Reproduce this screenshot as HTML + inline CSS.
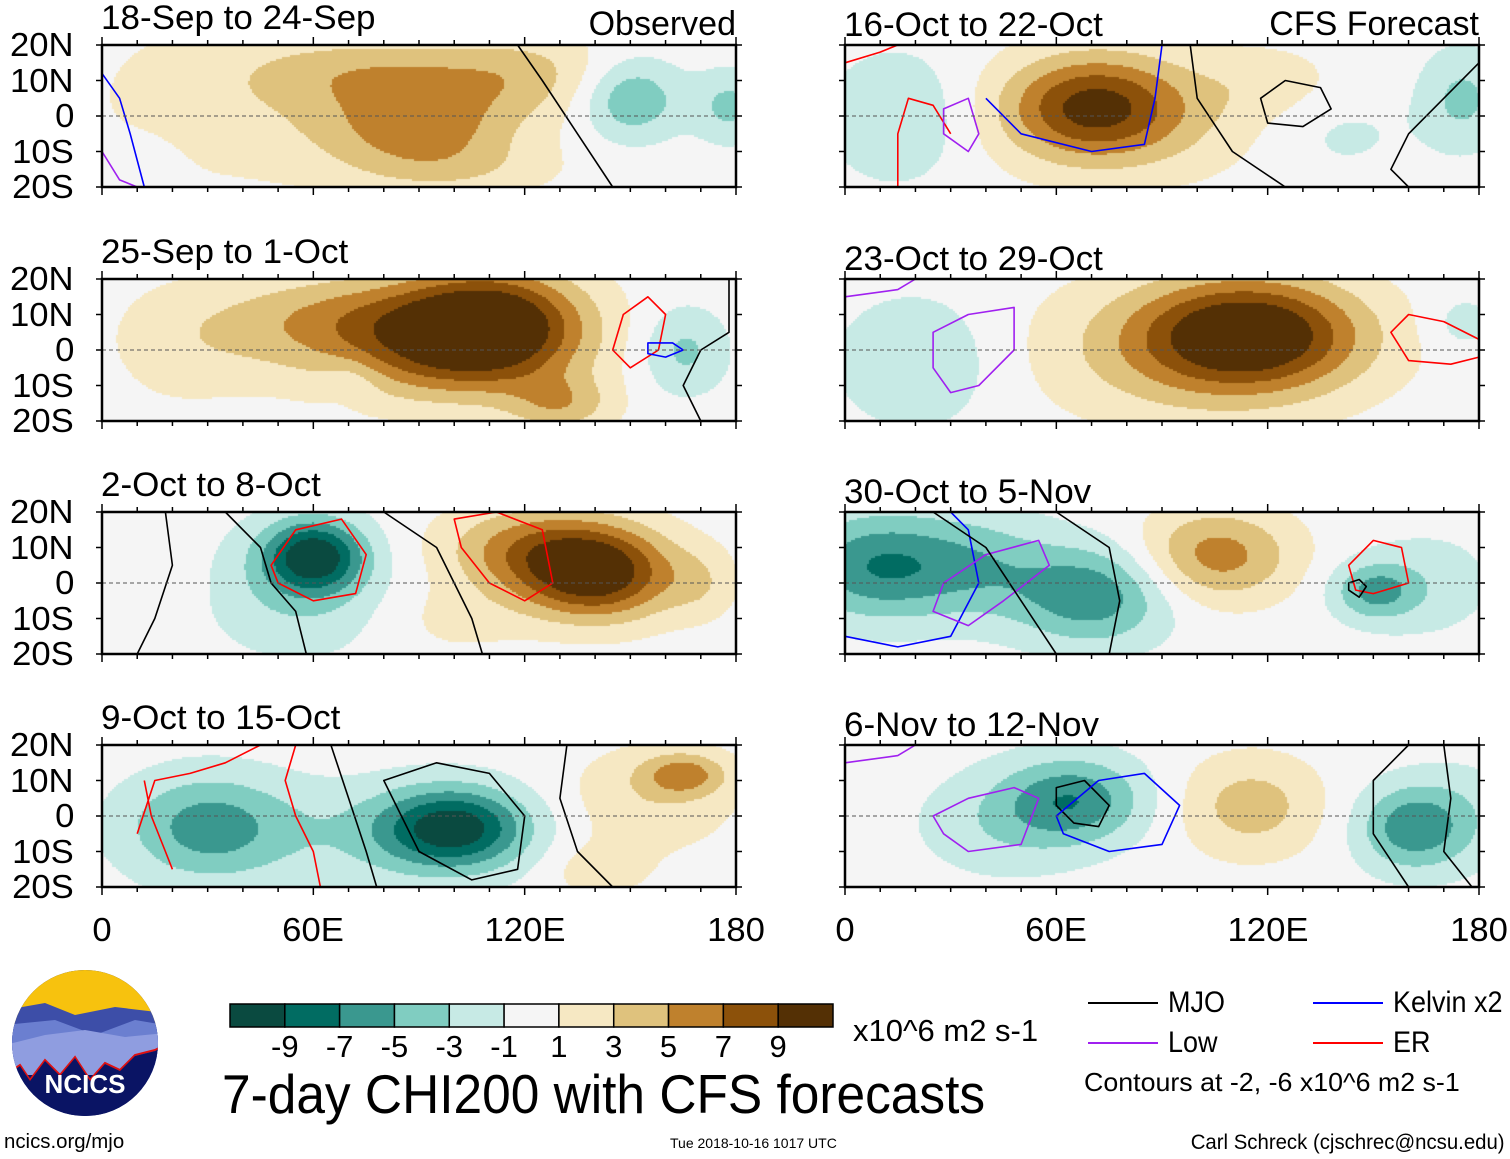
<!DOCTYPE html>
<html><head><meta charset="utf-8">
<style>
body{margin:0;background:#fff;width:1510px;height:1159px;position:relative;overflow:hidden;font-family:"Liberation Sans",sans-serif;color:#000}
.t{position:absolute;white-space:nowrap;line-height:1}
canvas{position:absolute}
svg{position:absolute;left:0;top:0}
</style></head><body>
<div id="root"></div>
<svg id="ov" width="1510" height="1159"></svg>

<!-- logo -->
<svg width="170" height="160" style="left:5px;top:965px">
<defs><clipPath id="lc"><ellipse cx="80" cy="78" rx="73" ry="73"/></clipPath></defs>
<g clip-path="url(#lc)">
<rect x="0" y="0" width="170" height="160" fill="#0a1464"/>
<rect x="0" y="0" width="170" height="60" fill="#f7c20e"/>
<polygon points="0,45 40,38 70,50 110,42 160,48 160,110 0,110" fill="#3d4ea8"/>
<polygon points="0,60 50,55 90,70 130,55 160,60 160,110 0,110" fill="#6b7fd0"/>
<polygon points="0,80 40,70 80,65 120,72 160,68 160,110 0,110" fill="#8f9de0"/>
<polyline points="0,110 15,100 25,115 40,95 55,110 70,92 85,115 100,98 115,105 130,90 150,85 160,80" fill="none" stroke="#e01010" stroke-width="2"/>
<polygon points="0,111 15,101 25,116 40,96 55,111 70,93 85,116 100,99 115,106 130,91 150,86 160,81 160,160 0,160" fill="#0a1464"/>
</g>
<text x="80" y="128" text-anchor="middle" fill="#fff" font-family="Liberation Sans" font-weight="bold" font-size="26">NCICS</text>
</svg>

<script>
// ---- data ----
const panelTitles=["18-Sep to 24-Sep","25-Sep to 1-Oct","2-Oct to 8-Oct","9-Oct to 15-Oct","16-Oct to 22-Oct","23-Oct to 29-Oct","30-Oct to 5-Nov","6-Nov to 12-Nov"];
const yTicks=["20N","10N","0","10S","20S"];
const xTicks=["0","60E","120E","180"];
const cbLabels=["-9","-7","-5","-3","-1","1","3","5","7","9"];
const cbColors=["#0a4a40","#016c62","#3a988f","#80cdc1","#c7eae5","#f5f5f5","#f6e8c3","#dfc27d","#bf812d","#8c510a","#543005"];
// blobs per panel: [lon, lat, amplitude, rLon, rLat]
const blobs0=[[40,5,2,45,25],[90,-3,5.5,28,12],[80,12,3.5,35,10],[120,12,3,25,12],[150,5,-5,14,11],[178,3,-3.5,10,10],[10,-15,-1.5,10,8],[100,-15,2,30,8]];
const blobs1=[[110,8,10.5,26,15],[95,0,5.5,35,15],[70,10,3.5,30,12],[40,5,2,30,15],[165,0,-3.5,12,12],[70,-8,-1.5,8,6],[130,-15,4,15,8],[20,0,1,20,20]];
const blobs2=[[60,8,-9.5,14,10],[55,-2,-3,25,18],[140,3,10.5,22,13],[120,10,5,25,12],[170,0,2,10,10],[10,0,1,15,12],[100,-10,1.5,20,10]];
const blobs3=[[30,-3,-6,24,15],[100,-3,-8.5,20,11],[85,-5,-3,35,15],[165,12,5,12,6],[155,5,2.5,25,15],[140,-15,2,15,8]];
const blobs4=[[70,3,7.5,24,14],[80,0,3,40,18],[15,0,-3,20,18],[175,5,-3.5,12,14],[140,-5,-1.5,20,12],[120,10,1.5,20,10]];
const blobs5=[[115,5,9.5,30,15],[100,0,4,45,20],[20,-3,-3,22,18],[175,8,-2,10,8]];
const blobs6=[[10,5,-7,25,15],[70,-3,-6.5,22,14],[105,8,6,22,13],[150,-2,-5,12,8],[165,0,-2,20,15],[40,5,-3,20,15]];
const blobs7=[[65,5,-6,20,12],[45,-2,-2.5,25,15],[115,3,4,20,14],[160,-3,-6,15,12],[175,0,-2,15,15]];
const allBlobs=[blobs0,blobs1,blobs2,blobs3,blobs4,blobs5,blobs6,blobs7];
const cornerLabels=["Observed","","","","CFS Forecast","","",""];
// contour lines per panel: [color, closed, [[lon,lat],...]]
const lines=[
 [["#00f",0,[[0,12],[5,5],[8,-5],[12,-20]]],["#000",0,[[118,20],[125,10],[135,-5],[145,-20]]],["#a020f0",0,[[0,-10],[5,-18],[10,-20]]]],
 [["#f00",1,[[148,10],[155,15],[160,10],[158,0],[150,-5],[145,0]]],["#00f",1,[[155,2],[162,2],[165,0],[160,-2],[155,-1]]],["#000",0,[[178,20],[178,5],[170,0],[165,-10],[170,-20]]]],
 [["#f00",1,[[48,5],[55,15],[68,18],[75,8],[72,-3],[60,-5],[50,0]]],["#000",0,[[35,20],[45,10],[48,0],[55,-8],[58,-20]]],["#000",0,[[18,20],[20,5],[15,-10],[10,-20]]],["#f00",1,[[100,18],[112,20],[125,15],[128,0],[120,-5],[110,0],[102,10]]],["#000",0,[[80,20],[95,10],[100,0],[105,-10],[108,-20]]]],
 [["#f00",0,[[10,-5],[15,10],[25,12],[35,15],[45,20]]],["#f00",0,[[55,20],[52,10],[55,0],[60,-10],[62,-20]]],["#000",1,[[80,10],[95,15],[110,12],[120,0],[118,-15],[105,-18],[90,-10]]],["#000",0,[[65,20],[70,5],[75,-10],[78,-20]]],["#000",0,[[132,20],[130,5],[135,-10],[145,-20]]],["#f00",0,[[12,10],[14,0],[18,-10],[20,-15]]]],
 [["#00f",0,[[40,5],[50,-5],[70,-10],[85,-8],[88,5],[90,20]]],["#f00",0,[[0,15],[10,18],[15,20]]],["#f00",0,[[15,-20],[15,-5],[18,5],[25,3],[30,-5]]],["#a020f0",1,[[28,2],[35,5],[38,-5],[35,-10],[28,-5]]],["#000",1,[[118,5],[125,10],[135,8],[138,2],[130,-3],[120,-2]]],["#000",0,[[98,20],[100,5],[110,-10],[125,-20]]],["#000",0,[[180,15],[170,5],[160,-5],[155,-15],[160,-20]]]],
 [["#a020f0",1,[[25,5],[35,10],[48,12],[48,0],[38,-10],[30,-12],[25,-5]]],["#f00",0,[[180,3],[170,8],[160,10],[155,5],[160,-3],[172,-4],[180,-2]]],["#a020f0",0,[[0,15],[15,17],[20,20]]]],
 [["#00f",0,[[0,-15],[15,-18],[30,-15],[38,0],[35,15],[30,20]]],["#a020f0",1,[[28,0],[40,8],[55,12],[58,5],[45,-5],[35,-12],[25,-8]]],["#000",0,[[25,20],[40,10],[50,-5],[60,-20]]],["#000",0,[[60,20],[75,10],[78,-5],[75,-20]]],["#f00",1,[[143,5],[150,12],[158,10],[160,0],[150,-3],[145,-2]]],["#000",1,[[143,0],[146,1],[148,-1],[146,-4],[143,-2]]]],
 [["#000",1,[[60,8],[68,10],[75,3],[72,-3],[65,-2],[60,3]]],["#00f",1,[[60,0],[72,10],[85,12],[95,3],[90,-8],[75,-10],[62,-5]]],["#a020f0",1,[[25,0],[35,5],[48,8],[55,5],[50,-8],[35,-10],[28,-5]]],["#000",0,[[160,20],[150,10],[150,-5],[160,-20]]],["#000",0,[[170,20],[172,5],[170,-10],[178,-20]]],["#a020f0",0,[[0,15],[15,17],[20,20]]]]
];
</script>
<script>
const root=document.getElementById('root');
const ov=document.getElementById('ov');
const NS='http://www.w3.org/2000/svg';
const PW=634,PH=142;
const lefts=[102,845];
const tops=[45,279,512,745];
const thr=[-9,-7,-5,-3,-1,1,3,5,7,9];
function colorFor(v){let i=0;while(i<thr.length&&v>thr[i])i++;return cbColors[i];}
function xs(lon){return lon/180*PW;}
function ys(lat){return (20-lat)/40*PH;}
function txt(s,x,y,size,anchor,name,sx){
 const d=document.createElement('div');d.className='t';d.textContent=s;d.style.fontSize=size+'px';d.style.top=y+'px';
 sx=sx||1;
 if(anchor==='r'){d.style.right=(1510-x)+'px';d.style.transformOrigin='right top';d.style.transform='scaleX('+sx+')';}
 else if(anchor==='c'){d.style.left=x+'px';d.style.transform='translateX(-50%) scaleX('+sx+')';}
 else {d.style.left=x+'px';d.style.transformOrigin='left top';d.style.transform='scaleX('+sx+')';}
 
 
 root.appendChild(d);return d;}
function sv(tag,attrs){const e=document.createElementNS(NS,tag);for(const k in attrs)e.setAttribute(k,attrs[k]);ov.appendChild(e);return e;}
for(let p=0;p<8;p++){
 const col=p<4?0:1,row=p%4,L=lefts[col],T=tops[row];
 const cv=document.createElement('canvas');cv.width=PW;cv.height=PH;cv.style.left=L+'px';cv.style.top=T+'px';
 
 
 root.appendChild(cv);
 const ctx=cv.getContext('2d');const st=2;
 for(let y=0;y<PH;y+=st)for(let x=0;x<PW;x+=st){
  const lon=x/PW*180,lat=20-y/PH*40;let v=0;
  for(const b of allBlobs[p]){const dx=(lon-b[0])/b[3],dy=(lat-b[1])/b[4];v+=b[2]*Math.exp(-(dx*dx+dy*dy));}
  ctx.fillStyle=colorFor(v);ctx.fillRect(x,y,st,st);
 }
 for(const ln of lines[p]){
  const pts=ln[2].map(q=>(L+xs(q[0])).toFixed(1)+','+(T+ys(q[1])).toFixed(1)).join(' ');
  const e=sv(ln[1]?'polygon':'polyline',{points:pts,fill:'none',stroke:ln[0],'stroke-width':1.6,'stroke-linejoin':'round'});
  
  
 }
 const eq=sv('line',{x1:L,x2:L+PW,y1:T+PH/2,y2:T+PH/2,stroke:'#555','stroke-dasharray':'4,3','stroke-width':1});
 
 
 const fr=sv('rect',{x:L,y:T,width:PW,height:PH,fill:'none',stroke:'#000','stroke-width':2.5});
 
 
 for(let lon=0;lon<=180;lon+=10){const x=L+xs(lon);const len=lon%60===0?8:5;
  sv('line',{x1:x,x2:x,y1:T,y2:T-len,stroke:'#000','stroke-width':1.5});
  sv('line',{x1:x,x2:x,y1:T+PH,y2:T+PH+len,stroke:'#000','stroke-width':1.5});}
 for(let k=0;k<5;k++){const y=T+k*PH/4;sv('line',{x1:L,x2:L-6,y1:y,y2:y,stroke:'#000','stroke-width':1.5});sv('line',{x1:L+PW,x2:L+PW+6,y1:y,y2:y,stroke:'#000','stroke-width':1.5});}
 txt(panelTitles[p],L-1,T-(col?37:44),34,'l','panel-title',1.03);
 if(cornerLabels[p])txt(cornerLabels[p],L+PW,T-38,34,'r','panel-source-label',1.0);
 if(col===0)yTicks.forEach((s,k)=>txt(s,L-28,T+k*PH/4-17,33,'r','y-tick-label',1.05));
 if(row===3)xTicks.forEach((s,k)=>txt(s,L+xs(k*60),913,33,'c','x-tick-label',1.05));
}
// colorbar
const cbL=230,cbT=1004,cbW=603,cbH=23,cw=cbW/11;
cbColors.forEach((c,i)=>{const r=sv('rect',{x:cbL+i*cw,y:cbT,width:cw,height:cbH,fill:c,stroke:'#000','stroke-width':1.5});
 
 });
cbLabels.forEach((s,i)=>txt(s,cbL+(i+1)*cw,1031,31,'c','colorbar-label'));
txt('x10^6 m2 s-1',853,1015,31,'l','colorbar-units');
txt('7-day CHI200 with CFS forecasts',222,1067,55,'l','chart-title',0.935);
// legend
const leg=[["#000",1088,1003,"MJO"],["#a020f0",1088,1043,"Low"],["#00f",1313,1003,"Kelvin x2"],["#f00",1313,1043,"ER"]];
leg.forEach(g=>{const l=sv('line',{x1:g[1],x2:g[1]+70,y1:g[2],y2:g[2],stroke:g[0],'stroke-width':2});
 
 
 txt(g[3],g[1]+80,g[2]-15,30,'l','legend-entry',0.9);});
txt('Contours at -2, -6 x10^6 m2 s-1',1084,1069,26,'l','contour-note',1.03);
txt('ncics.org/mjo',4,1132,20,'l','source-url',1.02);
txt('Tue 2018-10-16 1017 UTC',670,1136,14,'l','timestamp');
txt('Carl Schreck (cjschrec@ncsu.edu)',1505,1132,21,'r','author-credit',0.97);
</script>
</body></html>
